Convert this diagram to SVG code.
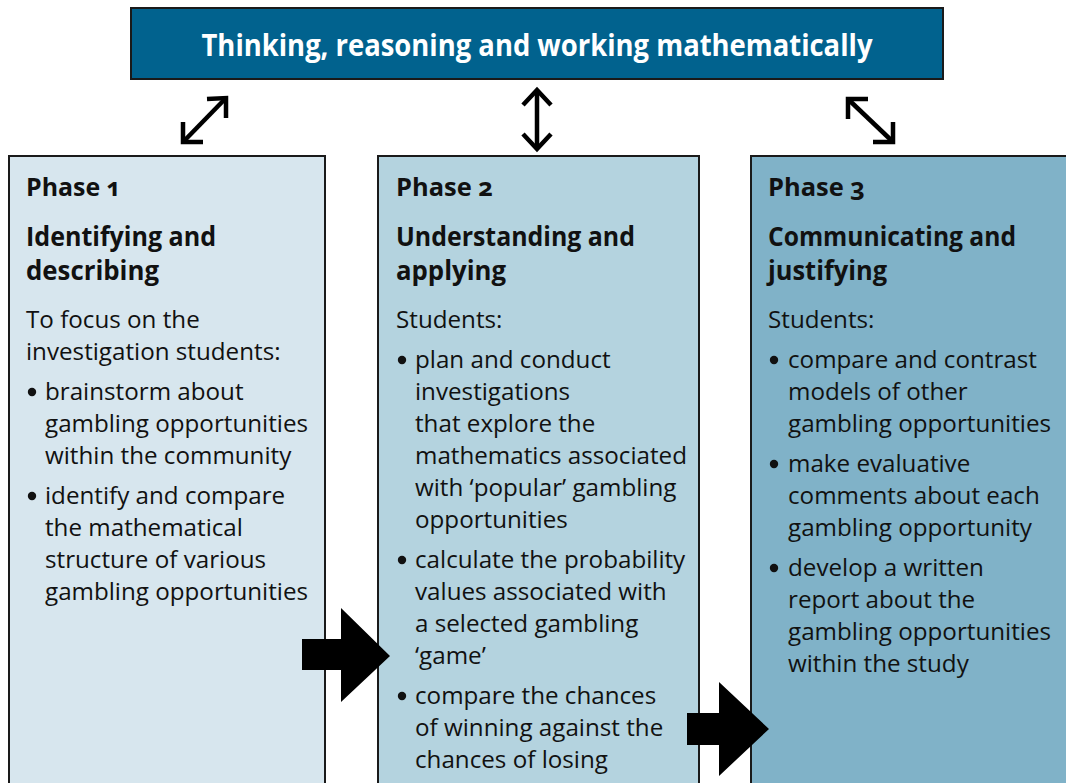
<svg xmlns="http://www.w3.org/2000/svg" width="1066" height="783" viewBox="0 0 1066 783">
  <style>
    .box { stroke: #1a1a1a; stroke-width: 2; }
    .p1 { fill: #d7e6ee; }
    .p2 { fill: #b4d3df; }
    .p3 { fill: #80b2c8; }
    .phase { font-family: "Open Sans", "Noto Sans", sans-serif; font-weight: 700; font-size: 25px; fill: #111; font-variant-numeric: oldstyle-nums; }
    .head { font-family: "Open Sans", "Noto Sans", sans-serif; font-weight: 700; font-size: 26.5px; fill: #111; }
    .body { font-family: "Open Sans", "Noto Sans", sans-serif; font-size: 24.2px; fill: #111; }
    .title { font-family: "Open Sans", "Noto Sans", sans-serif; font-weight: 700; font-size: 30px; fill: #ffffff; }
    .dbl { fill: none; stroke: #000; stroke-width: 4.5; stroke-linecap: butt; stroke-linejoin: miter; }
    .big { fill: #000; }
  </style>

  <rect width="1066" height="783" fill="#ffffff"/>

  <!-- Overarching proficiency banner -->
  <g id="banner">
    <rect x="131" y="8" width="812" height="71" fill="#01628e" class="box"/>
    <text class="title" x="537" y="56" text-anchor="middle" textLength="671" lengthAdjust="spacingAndGlyphs">Thinking, reasoning and working mathematically</text>
  </g>

  <!-- Phase 1 -->
  <g id="phase1">
    <rect x="9" y="156" width="316" height="640" class="box p1"/>
    <text class="phase" x="26" y="196" textLength="95" lengthAdjust="spacingAndGlyphs">Phase 1</text>
    <text class="head" x="26" y="246" textLength="190" lengthAdjust="spacingAndGlyphs">Identifying and</text>
    <text class="head" x="26" y="280" textLength="133" lengthAdjust="spacingAndGlyphs">describing</text>
    <g class="body">
      <text x="26" y="328">To focus on the</text>
      <text x="26" y="360">investigation students:</text>
      <text x="45" y="400">brainstorm about</text>
      <text x="45" y="432">gambling opportunities</text>
      <text x="45" y="464">within the community</text>
      <text x="45" y="504">identify and compare</text>
      <text x="45" y="536">the mathematical</text>
      <text x="45" y="568">structure of various</text>
      <text x="45" y="600">gambling opportunities</text>
    </g>
    <circle cx="32" cy="392" r="4.2" fill="#111"/>
    <circle cx="32" cy="496" r="4.2" fill="#111"/>
  </g>

  <!-- Phase 2 -->
  <g id="phase2">
    <rect x="378" y="156" width="321" height="640" class="box p2"/>
    <text class="phase" x="396" y="196" textLength="97" lengthAdjust="spacingAndGlyphs">Phase 2</text>
    <text class="head" x="396" y="246" textLength="239" lengthAdjust="spacingAndGlyphs">Understanding and</text>
    <text class="head" x="396" y="280" textLength="110" lengthAdjust="spacingAndGlyphs">applying</text>
    <g class="body">
      <text x="396" y="328">Students:</text>
      <text x="415" y="368">plan and conduct</text>
      <text x="415" y="400">investigations</text>
      <text x="415" y="432">that explore the</text>
      <text x="415" y="464">mathematics associated</text>
      <text x="415" y="496">with ‘popular’ gambling</text>
      <text x="415" y="528">opportunities</text>
      <text x="415" y="568">calculate the probability</text>
      <text x="415" y="600">values associated with</text>
      <text x="415" y="632">a selected gambling</text>
      <text x="415" y="664">‘game’</text>
      <text x="415" y="704">compare the chances</text>
      <text x="415" y="736">of winning against the</text>
      <text x="415" y="768">chances of losing</text>
    </g>
    <circle cx="402" cy="360" r="4.2" fill="#111"/>
    <circle cx="402" cy="560" r="4.2" fill="#111"/>
    <circle cx="402" cy="696" r="4.2" fill="#111"/>
  </g>

  <!-- Phase 3 -->
  <g id="phase3">
    <rect x="751" y="156" width="330" height="640" class="box p3"/>
    <text class="phase" x="768" y="196" textLength="97" lengthAdjust="spacingAndGlyphs">Phase 3</text>
    <text class="head" x="768" y="246" textLength="248" lengthAdjust="spacingAndGlyphs">Communicating and</text>
    <text class="head" x="768" y="280" textLength="119" lengthAdjust="spacingAndGlyphs">justifying</text>
    <g class="body">
      <text x="768" y="328">Students:</text>
      <text x="788" y="368">compare and contrast</text>
      <text x="788" y="400">models of other</text>
      <text x="788" y="432">gambling opportunities</text>
      <text x="788" y="472">make evaluative</text>
      <text x="788" y="504">comments about each</text>
      <text x="788" y="536">gambling opportunity</text>
      <text x="788" y="576">develop a written</text>
      <text x="788" y="608">report about the</text>
      <text x="788" y="640">gambling opportunities</text>
      <text x="788" y="672">within the study</text>
    </g>
    <circle cx="774" cy="360" r="4.2" fill="#111"/>
    <circle cx="774" cy="464" r="4.2" fill="#111"/>
    <circle cx="774" cy="568" r="4.2" fill="#111"/>
  </g>

  <!-- Connectors: two-way links to the banner and forward flow between phases -->
  <g id="connectors">
    <g class="dbl">
      <line x1="185" y1="140" x2="224" y2="100"/>
      <polyline points="207,99 226,98 226,118"/>
      <polyline points="183,122 183,142 203,142"/>

      <line x1="537" y1="93" x2="537" y2="146"/>
      <polyline points="523,105 537,90 551,105"/>
      <polyline points="523,134 537,149 551,134"/>

      <line x1="850" y1="101" x2="891" y2="140"/>
      <polyline points="868,99 848,99 848,119"/>
      <polyline points="873,142 893,142 893,122"/>
    </g>
    <polygon class="big" points="302,639 341,639 341,608 390,656 341,702 341,670 302,670"/>
    <polygon class="big" points="687,713 719,713 719,682 769,729 719,776 719,745 687,745"/>
  </g>
</svg>
